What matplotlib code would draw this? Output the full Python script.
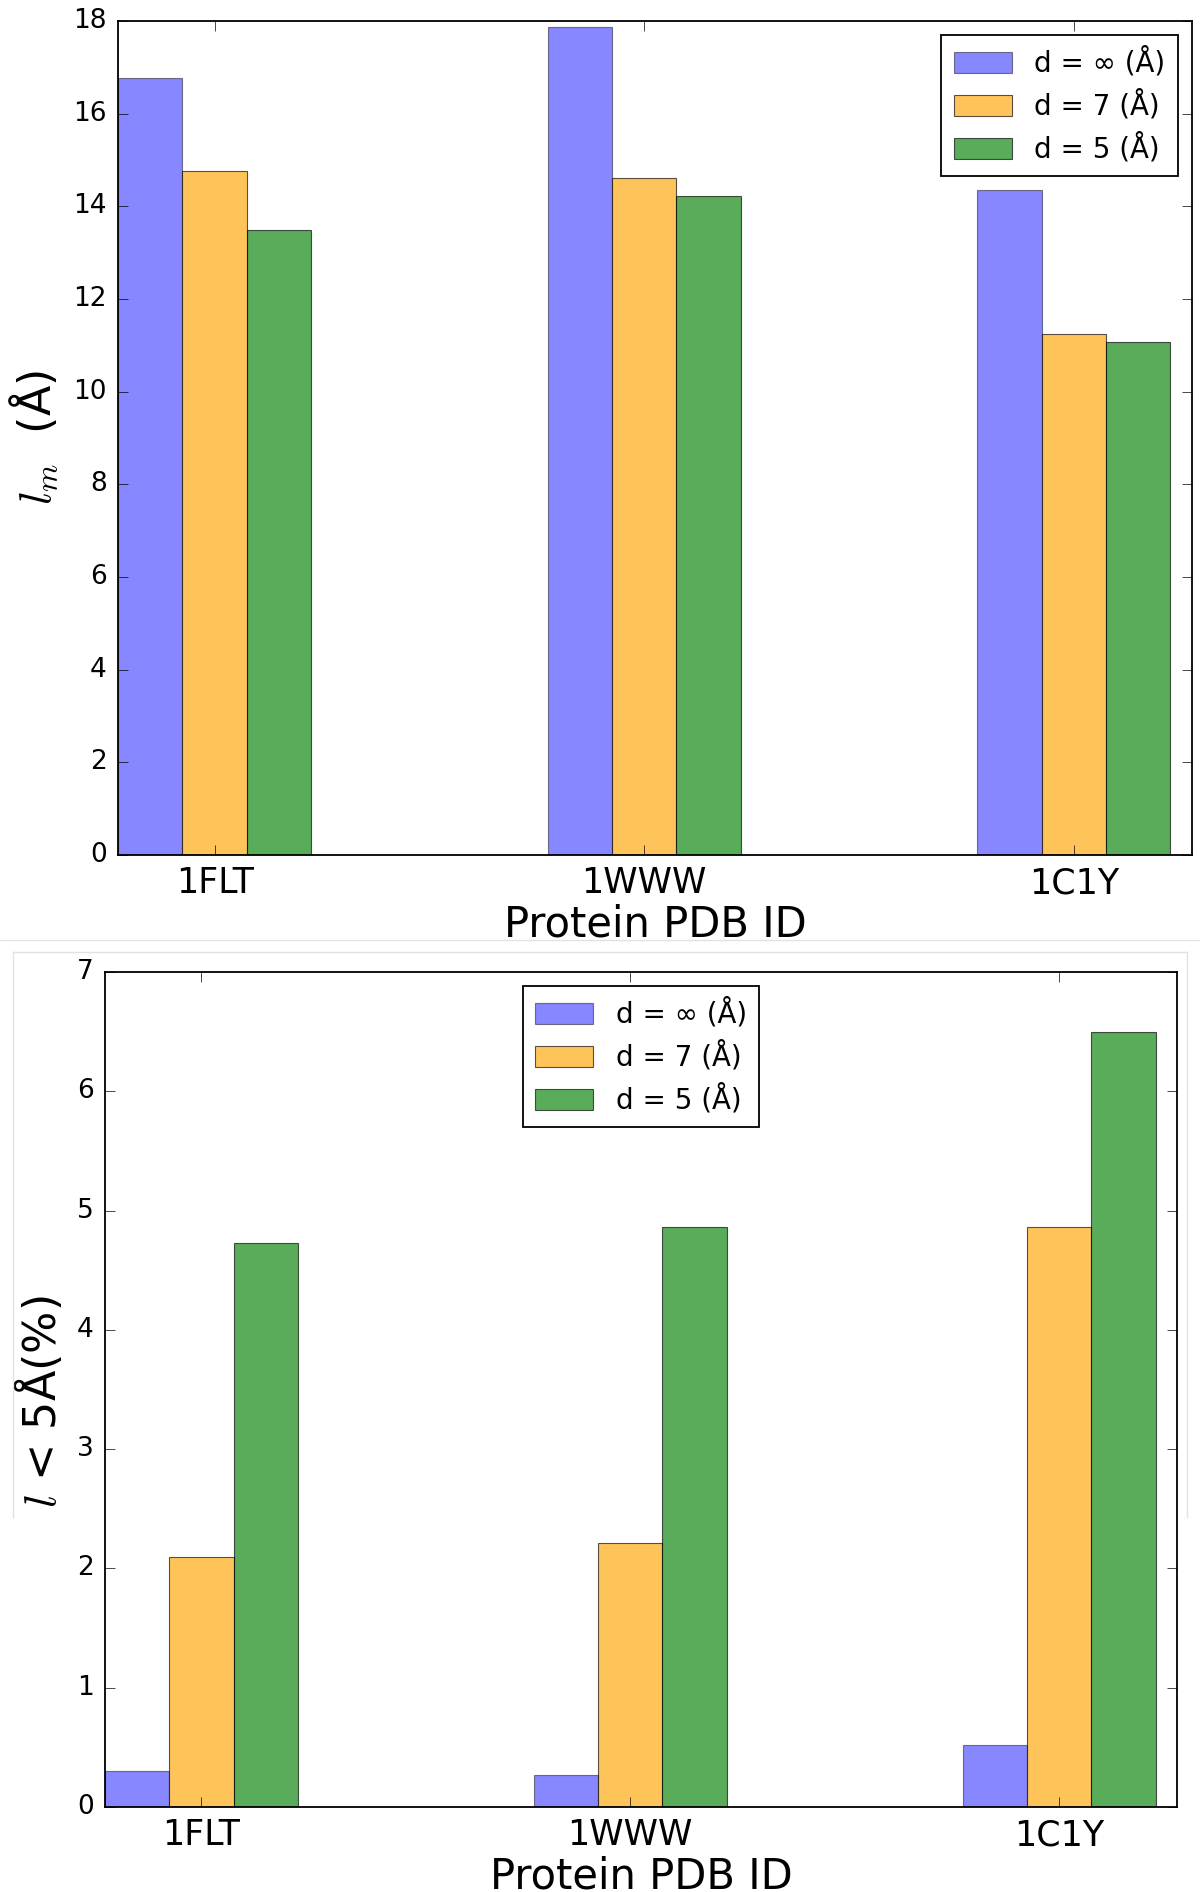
import numpy as np
import matplotlib
matplotlib.use("Agg")
import matplotlib.pyplot as plt
from matplotlib.lines import Line2D

plt.style.use("classic")
plt.rcParams["figure.facecolor"] = "white"
plt.rcParams["savefig.facecolor"] = "white"

proteins = ["1FLT", "1WWW", "1C1Y"]
series_labels = ["d = ∞ (Å)", "d = 7 (Å)", "d = 5 (Å)"]
colors = ["b", "orange", "g"]
alphas = [0.47, 0.65, 0.65]

# mean length l_m (Å)
lm_inf = [16.77, 17.88, 14.35]
lm_7 = [14.77, 14.62, 11.25]
lm_5 = [13.49, 14.22, 11.07]

# share of l < 5 Å (%)
pct_inf = [0.30, 0.27, 0.52]
pct_7 = [2.10, 2.21, 4.86]
pct_5 = [4.73, 4.86, 6.50]

bar_w = 0.15


def draw_panel(ax, series, ylabel, ymax, legend_loc, ylabel_xy, xlabel_y):
    x = np.arange(len(proteins))
    for i, (vals, lab, c, a) in enumerate(zip(series, series_labels, colors, alphas)):
        ax.bar(x + (i - 1) * bar_w, vals, bar_w, color=c, alpha=a,
               edgecolor="k", linewidth=0.8, label=lab, align="center")
    ax.set_xlim(-0.225, 2.275)
    ax.set_ylim(0, ymax)
    ax.set_xticks(x)
    ax.set_xticklabels(proteins)
    ax.tick_params(axis="x", labelsize=25, pad=8, length=7)
    ax.tick_params(axis="y", labelsize=19, pad=8, length=7)
    for sp in ax.spines.values():
        sp.set_linewidth(1.3)
    ax.set_xlabel("Protein PDB ID", fontsize=30)
    ax.xaxis.set_label_coords(0.5, xlabel_y)
    ax.set_ylabel(ylabel, fontsize=32)
    ax.yaxis.set_label_coords(*ylabel_xy)
    leg = ax.legend(loc=legend_loc, fontsize=20, handlelength=2.1,
                    handleheight=0.8, handletextpad=0.8, labelspacing=0.45,
                    borderpad=0.45)
    leg.get_frame().set_linewidth(1.3)


fig = plt.figure(figsize=(12, 18.92), dpi=100)

ax1 = fig.add_axes([0.0983, 0.5481, 0.895, 0.4408])
draw_panel(ax1, [lm_inf, lm_7, lm_5], r"$l_m$  (Å)", 18, "upper right",
           (-0.054, 0.5), -0.058)

ax2 = fig.add_axes([0.0875, 0.0449, 0.8933, 0.4413])
draw_panel(ax2, [pct_inf, pct_7, pct_5], r"$l$ < 5Å(%)", 7, "upper center",
           (-0.037, 0.485), -0.058)

# faint borders where the two images were put together
grey = "#e2e2e2"
fig.add_artist(Line2D([0, 1], [0.5032, 0.5032], color=grey, lw=1, transform=fig.transFigure))
fig.add_artist(Line2D([0.0108, 0.989], [0.4968, 0.4968], color=grey, lw=1, transform=fig.transFigure))
fig.add_artist(Line2D([0.0108, 0.0108], [0.4968, 0.1982], color=grey, lw=1, transform=fig.transFigure))
fig.add_artist(Line2D([0.989, 0.989], [0.4968, 0.1982], color=grey, lw=1, transform=fig.transFigure))

fig.savefig("out.png", dpi=100)
